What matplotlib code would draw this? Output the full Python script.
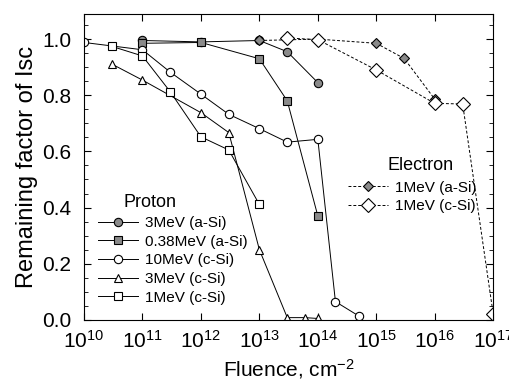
import numpy as np
import matplotlib
matplotlib.use("Agg")
from matplotlib import pyplot as plt
from matplotlib.ticker import FixedLocator, FuncFormatter, MultipleLocator

plt.rcParams['font.family'] = ['Liberation Sans', 'DejaVu Sans']
plt.rcParams['mathtext.fontset'] = 'custom'
plt.rcParams['mathtext.rm'] = 'Liberation Sans'
plt.rcParams['mathtext.it'] = 'Liberation Sans'

# proton data
p3a_x = [1e11, 1e12, 1e13, 3e13, 1e14]
p3a_y = [0.995, 0.99, 0.995, 0.955, 0.845]
p038a_x = [1e11, 1e12, 1e13, 3e13, 1e14]
p038a_y = [0.985, 0.988, 0.93, 0.78, 0.37]
p10c_x = [1e10, 1e11, 3e11, 1e12, 3e12, 1e13, 3e13, 1e14, 2e14, 5e14]
p10c_y = [0.988, 0.962, 0.882, 0.804, 0.732, 0.681, 0.633, 0.643, 0.065, 0.014]
p3c_x = [3e10, 1e11, 1e12, 3e12, 1e13, 3e13, 6e13, 1e14]
p3c_y = [0.911, 0.854, 0.738, 0.667, 0.25, 0.008, 0.008, 0.005]
p1c_x = [3e10, 1e11, 3e11, 1e12, 3e12, 1e13]
p1c_y = [0.974, 0.94, 0.812, 0.652, 0.605, 0.411]

# electron data
e1a_x = [1e13, 1e14, 1e15, 3e15, 1e16]
e1a_y = [0.995, 1.0, 0.985, 0.931, 0.786]
e1c_x = [3e13, 1e14, 1e15, 1e16, 3e16, 1e17]
e1c_y = [1.004, 0.998, 0.89, 0.771, 0.769, 0.02]

fig = plt.figure(figsize=(5.09, 3.84), dpi=100)
ax = fig.add_axes([0.165, 0.167, 0.804, 0.797])

gray = '#8a8a8a'
kw = dict(color='black', lw=0.7, ms=6, mec='black', mew=0.8)
h1, = ax.plot(p3a_x, p3a_y, marker='o', mfc=gray, label='3MeV (a-Si)', **kw)
h2, = ax.plot(p038a_x, p038a_y, marker='s', mfc=gray, label='0.38MeV (a-Si)', **kw)
h3, = ax.plot(p10c_x, p10c_y, marker='o', mfc='white', label='10MeV (c-Si)', **kw)
h4, = ax.plot(p3c_x, p3c_y, marker='^', mfc='white', label='3MeV (c-Si)', **kw)
h5, = ax.plot(p1c_x, p1c_y, marker='s', mfc='white', label='1MeV (c-Si)', **kw)

ekw = dict(color='black', lw=0.7, ls=(0, (3, 2)), ms=7, mec='black', mew=0.8)
e1, = ax.plot(e1a_x, e1a_y, marker='D', mfc=gray, label='1MeV (a-Si)', **dict(ekw, ms=5.5))
e2, = ax.plot(e1c_x, e1c_y, marker='D', mfc='white', label='1MeV (c-Si)', **ekw)

ax.set_xscale('log')
ax.set_xlim(1e10, 1e17)
ax.set_ylim(0, 1.09)

ax.xaxis.set_major_locator(FixedLocator([10.0**k for k in range(10, 18)]))
ax.xaxis.set_major_formatter(FuncFormatter(lambda v, p: r'$10^{%d}$' % round(np.log10(v))))
ax.yaxis.set_major_locator(MultipleLocator(0.2))
ax.yaxis.set_minor_locator(MultipleLocator(0.05))
ax.yaxis.set_major_formatter(FuncFormatter(lambda v, p: '%.1f' % v))
ax.tick_params(which='both', direction='in', top=True, right=True)
ax.tick_params(which='major', length=5, labelsize=15)
ax.tick_params(which='minor', length=3)
ax.tick_params(axis='x', which='major', labelsize=15, pad=7)
ax.tick_params(axis='y', which='major', pad=9)

ax.set_xlabel('Fluence, cm$^{-2}$', fontsize=15, labelpad=4)
ax.set_ylabel('Remaining factor of Isc', fontsize=17, labelpad=3)

lkw = dict(frameon=False, fontsize=11, handlelength=2.6, labelspacing=0.3,
           handletextpad=0.45, borderpad=0, borderaxespad=0)
leg1 = ax.legend(handles=[h1, h2, h3, h4, h5], loc='lower left',
                 bbox_to_anchor=(0.035, 0.05), **lkw)
ax.add_artist(leg1)
ax.legend(handles=[e1, e2], loc='upper left', bbox_to_anchor=(0.645, 0.455), **lkw)
ax.text(0.161, 0.382, 'Proton', transform=ax.transAxes, fontsize=13,
        ha='center', va='center')
ax.text(0.822, 0.503, 'Electron', transform=ax.transAxes, fontsize=13,
        ha='center', va='center')

fig.savefig('out.png', dpi=100)
